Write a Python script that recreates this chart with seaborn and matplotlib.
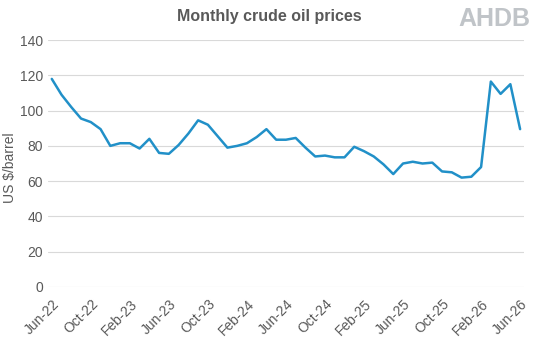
import numpy as np
import pandas as pd
import matplotlib
matplotlib.use('Agg')
import matplotlib.pyplot as plt
import seaborn as sns

# monthly crude oil price, Jun-22 .. Jun-26
months = pd.date_range('2022-06-01', '2026-06-01', freq='MS').strftime('%b-%y').tolist()
prices = [118, 109, 102, 95.5, 93.5, 89.5, 80, 81.5, 81.5, 78.5, 84, 76, 75.5,
          80.5, 87, 94.5, 92, 85.5, 79, 80, 81.5, 85, 89.5, 83.5, 83.5, 84.5,
          79, 74, 74.5, 73.5, 73.5, 79.5, 77, 74, 69.5, 64, 70, 71, 70, 70.5,
          65.5, 65, 62, 62.5, 68, 116.5, 109.5, 115, 89.5]
tick_every = 4

data = pd.DataFrame({'month': months, 'price': prices})
data['pos'] = np.arange(len(data))

sns.set_style('white')
plt.rcParams['font.family'] = ['Liberation Sans', 'DejaVu Sans']

fig = plt.figure(figsize=(5.38, 3.49), dpi=100)
ax = fig.add_axes([0.089, 0.178, 0.885, 0.707])

sns.lineplot(data=data, x='pos', y='price', ax=ax, color='#2190c8', linewidth=1.8)

ax.set_ylim(0, 140)
ax.set_yticks(np.arange(0, 141, 20))
ax.set_xlim(-0.4, len(data) - 0.6)
ticks = data['pos'][::tick_every]
ax.set_xticks(ticks)
ax.set_xticklabels(data['month'][::tick_every], rotation=45, ha='right',
                   rotation_mode='anchor')
ax.tick_params(axis='both', length=0, labelsize=10, colors='#595959')
ax.tick_params(axis='x', pad=7)
ax.grid(axis='y', color='#d9d9d9', linewidth=0.8)
for s in ax.spines.values():
    s.set_visible(False)

ax.set_xlabel('')
ax.set_ylabel('')
fig.text(0.019, 0.52, 'US $/barrel', rotation=90, ha='center', va='center',
         fontsize=10, color='#595959')

fig.text(0.5, 0.952, 'Monthly crude oil prices', ha='center', va='center',
         fontsize=11.5, fontweight='bold', color='#595959')
fig.text(0.985, 0.945, 'AHDB', ha='right', va='center', fontsize=18,
         fontweight='bold', color='#c0c4c8')

fig.savefig('out.png', dpi=100)
